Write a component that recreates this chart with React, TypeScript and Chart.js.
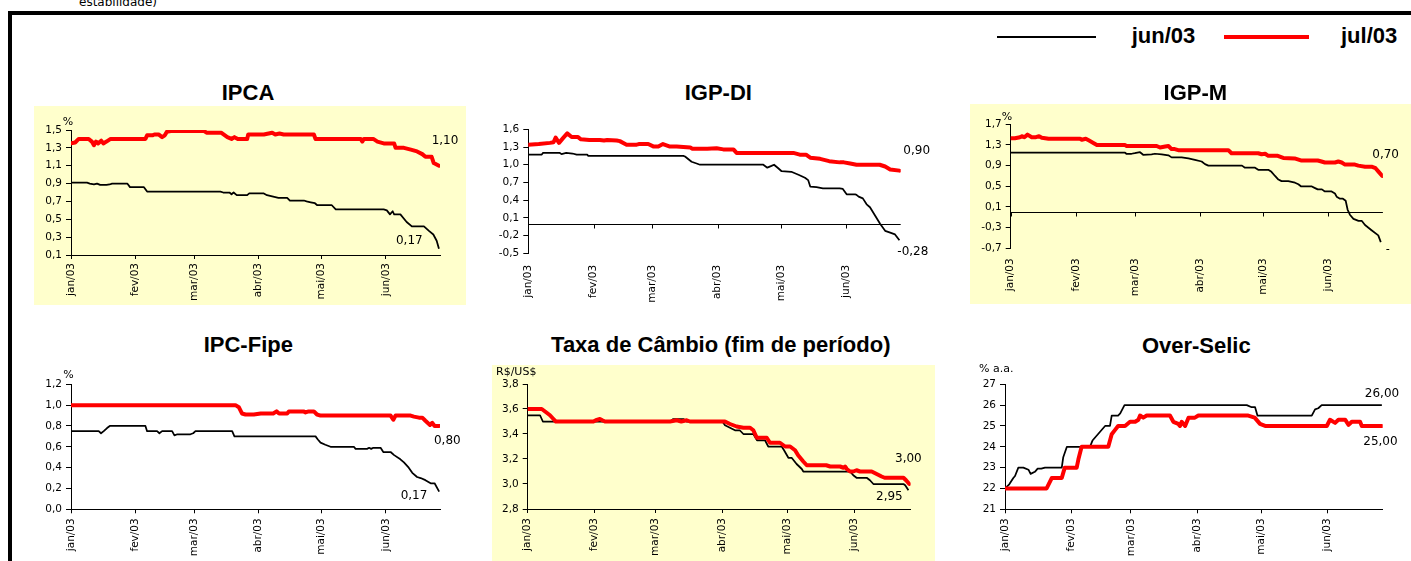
import React, { useEffect, useRef } from 'react';
import { Chart, registerables } from 'chart.js';
Chart.register(...registerables);

type Pt = [number, number];

// ---------------- data ----------------
const monthTicks = [0, 31, 59, 90, 120, 151];
const monthLabels = ['jan/03', 'fev/03', 'mar/03', 'abr/03', 'mai/03', 'jun/03'];
const dayMax = 177;
const seriesLabels = ['jun/03', 'jul/03'];

const ipcaJun: Pt[] = [[0,0.91],[7.7,0.91],[9,0.90],[11,0.89],[12.5,0.90],[14,0.885],[17,0.885],[18.5,0.89],[19.7,0.90],[27,0.90],[28.3,0.86],[35,0.86],[36.5,0.81],[71.7,0.81],[73,0.80],[76,0.80],[77,0.78],[78,0.80],[79.5,0.77],[84.5,0.77],[85.5,0.79],[92.5,0.79],[94,0.77],[99.5,0.74],[103.7,0.74],[105,0.71],[111.7,0.71],[113,0.70],[115,0.69],[117,0.68],[118,0.66],[125,0.66],[127,0.61],[150,0.61],[151.5,0.60],[153,0.555],[154.3,0.59],[155,0.555],[158,0.555],[161,0.47],[163.5,0.42],[169.3,0.42],[171.7,0.37],[173.8,0.33],[175.4,0.26],[176.5,0.17]];
const ipcaJul: Pt[] = [[0,1.35],[2,1.36],[3.7,1.40],[8.5,1.40],[10,1.37],[11,1.33],[12,1.37],[13,1.35],[14.5,1.38],[15.5,1.35],[17,1.37],[19,1.40],[35.7,1.40],[36.5,1.44],[39,1.44],[40,1.45],[42,1.45],[43.7,1.42],[45,1.44],[46,1.48],[48.5,1.49],[63.7,1.49],[65,1.47],[72,1.47],[75,1.42],[77,1.40],[78.4,1.42],[80,1.40],[84.5,1.40],[85,1.45],[92.5,1.45],[96.5,1.47],[98,1.45],[100,1.46],[102,1.45],[116.5,1.45],[117.3,1.40],[139,1.40],[139.7,1.37],[140.5,1.40],[145,1.40],[147,1.37],[150,1.35],[155,1.35],[155.7,1.30],[159.7,1.30],[163,1.28],[166,1.26],[168.5,1.23],[170,1.20],[173,1.20],[174,1.13],[176.5,1.10]];

const igpdiJun: Pt[] = [[0,1.17],[6.3,1.17],[7,1.20],[15,1.20],[15.8,1.18],[18,1.20],[21,1.19],[23,1.17],[28,1.17],[28.5,1.15],[73.7,1.15],[74.5,1.14],[77.6,1.05],[80,1.02],[81.6,1.00],[111.7,1.00],[113.6,0.95],[115.6,0.98],[116.8,1.00],[118.8,0.94],[120.4,0.89],[125,0.88],[128.4,0.83],[131.5,0.78],[133,0.74],[134,0.63],[137,0.62],[140,0.60],[148,0.60],[149.5,0.59],[151.3,0.50],[155.3,0.50],[156,0.49],[157,0.46],[159,0.43],[160.8,0.33],[162.4,0.28],[164.8,0.14],[167.2,0.00],[169.6,-0.12],[172,-0.15],[174.3,-0.18],[176.4,-0.28]];
const igpdiJul: Pt[] = [[0,1.34],[5,1.35],[10.3,1.37],[12,1.38],[13,1.46],[14.6,1.37],[16.5,1.45],[18.5,1.53],[20.6,1.47],[23.5,1.47],[25,1.43],[29,1.42],[34,1.42],[36,1.41],[37.5,1.42],[42,1.41],[43.5,1.40],[46.7,1.34],[51.5,1.34],[52.5,1.35],[57,1.35],[59.4,1.31],[61.8,1.31],[64,1.35],[67,1.31],[70.5,1.31],[73.7,1.30],[77,1.29],[78,1.27],[85,1.27],[89.5,1.28],[92.7,1.26],[97.5,1.26],[99,1.20],[126,1.20],[129,1.17],[132,1.17],[134,1.12],[138.7,1.10],[143,1.06],[148,1.04],[150,1.04],[153,1.02],[156,1.00],[167,1.00],[169.6,0.97],[172,0.92],[176.4,0.90]];

const igpmJun: Pt[] = [[0,1.15],[54.4,1.15],[55,1.13],[57.5,1.13],[59,1.14],[61.5,1.16],[63,1.11],[67,1.12],[68.6,1.13],[71.8,1.12],[75,1.10],[76.5,1.06],[81.3,1.06],[84.5,1.04],[87.6,1.01],[90.8,0.98],[92.4,0.93],[94,0.90],[110,0.90],[111.4,0.86],[116.2,0.86],[117.7,0.82],[122.5,0.82],[124,0.78],[125.7,0.70],[127.3,0.63],[128.8,0.60],[132,0.60],[135.2,0.57],[136.8,0.54],[138,0.50],[143,0.50],[144.5,0.47],[146,0.44],[148,0.44],[149.4,0.40],[152.6,0.40],[154.2,0.36],[155,0.30],[156.6,0.26],[158,0.26],[159.3,0.22],[160.2,0.05],[161.3,-0.05],[163,-0.13],[165.4,-0.17],[167,-0.17],[168.5,-0.25],[171.6,-0.35],[174.8,-0.45],[176,-0.58]];
const igpmJul: Pt[] = [[0,1.43],[2,1.43],[4.4,1.45],[5.5,1.47],[6.5,1.45],[8,1.50],[10,1.45],[12,1.45],[13.5,1.47],[14.8,1.44],[18,1.42],[33,1.42],[33.8,1.40],[35.7,1.42],[37.5,1.38],[39.3,1.34],[41,1.30],[54.4,1.30],[55,1.28],[69.4,1.28],[71,1.25],[73.5,1.27],[75,1.28],[76.5,1.22],[78,1.22],[79.7,1.20],[103.5,1.20],[105,1.14],[117.7,1.14],[119.3,1.12],[121,1.13],[122.5,1.09],[127,1.09],[129.6,1.05],[135,1.04],[136.5,1.02],[138,1.00],[146,1.00],[147.8,0.98],[149.4,0.96],[154.2,0.96],[155.8,0.98],[157.4,0.96],[159,0.92],[163.7,0.92],[165.3,0.90],[168.5,0.88],[171.6,0.88],[173.5,0.85],[175,0.78],[176.7,0.70]];

const fipeJun: Pt[] = [[0,0.75],[13.3,0.75],[14.4,0.73],[15.7,0.75],[17.3,0.78],[18.6,0.80],[35.7,0.80],[36.5,0.75],[41.3,0.75],[42.4,0.73],[43.7,0.75],[48.5,0.75],[49.6,0.71],[51,0.72],[57.3,0.72],[58.6,0.73],[59.7,0.75],[77.3,0.75],[78.4,0.70],[117.3,0.70],[118.4,0.67],[119.7,0.64],[122,0.62],[124.5,0.60],[135.7,0.60],[136.5,0.58],[142,0.58],[143,0.59],[144,0.58],[145,0.59],[148.5,0.59],[149.8,0.55],[153.3,0.55],[155,0.52],[158,0.48],[159.7,0.45],[162,0.40],[163.7,0.35],[166,0.31],[167.7,0.30],[170,0.28],[172.5,0.25],[174.4,0.25],[176.6,0.17]];
const fipeJul: Pt[] = [[0,1.00],[78.9,1.00],[80.5,0.98],[82,0.92],[83.7,0.91],[87.7,0.91],[91,0.92],[97,0.92],[98.6,0.94],[99.8,0.92],[103.7,0.92],[104.5,0.94],[111.5,0.94],[112.5,0.93],[114,0.94],[116.5,0.94],[118,0.91],[119.7,0.90],[153.3,0.90],[154.6,0.86],[155.7,0.90],[162.9,0.90],[164.5,0.89],[166.9,0.88],[168.5,0.88],[170,0.85],[172.2,0.81],[173.3,0.83],[174.4,0.80],[176.6,0.80]];

const cambioJun: Pt[] = [[0,3.55],[5.7,3.55],[7,3.50],[66,3.50],[67.3,3.52],[72,3.52],[73.5,3.50],[90,3.50],[91.2,3.47],[93.5,3.45],[95.8,3.43],[98,3.43],[99.7,3.40],[104.3,3.40],[106,3.35],[109.7,3.35],[111.2,3.30],[117.4,3.30],[118.5,3.27],[120.5,3.21],[122,3.21],[124.3,3.16],[126.7,3.12],[127.4,3.10],[149,3.10],[150.5,3.07],[152,3.05],[156.7,3.05],[158.2,3.03],[159.8,3.00],[173.7,3.00],[174.5,2.99],[176,2.95]];
const cambioJul: Pt[] = [[0,3.60],[6.5,3.60],[8.8,3.57],[10.3,3.55],[11.9,3.52],[13,3.50],[30.4,3.50],[31.5,3.51],[33.4,3.52],[34.5,3.51],[35.7,3.50],[65.8,3.50],[68.9,3.51],[71,3.50],[73.5,3.51],[75,3.50],[91.2,3.50],[93.5,3.48],[96.6,3.46],[99.7,3.45],[102.8,3.45],[104.3,3.43],[105.9,3.37],[110.5,3.37],[112,3.33],[116.6,3.33],[119,3.30],[121.3,3.30],[123.6,3.27],[125,3.23],[127.4,3.18],[129,3.15],[138,3.15],[139.8,3.14],[144.4,3.14],[146,3.13],[146.7,3.14],[147.5,3.12],[149,3.10],[150.5,3.10],[152,3.11],[153.6,3.10],[159,3.10],[161.3,3.08],[163.6,3.06],[165,3.05],[173.7,3.05],[174.9,3.03],[176.4,3.00]];

const selicJun: Pt[] = [[0,22.0],[2,22.2],[3.9,22.5],[4.7,22.6],[6.25,23.0],[8.6,23.0],[11,22.9],[12,22.7],[14,22.8],[15.3,22.95],[17,22.95],[18.75,23.0],[26.6,23.0],[27.3,23.5],[29,24.0],[39.8,24.0],[41,24.3],[46.9,25.0],[49.2,25.0],[50,25.5],[53,25.5],[54,25.6],[56,26.0],[113.3,26.0],[115.6,25.9],[117.2,25.9],[118.3,25.5],[143.75,25.5],[145.3,25.8],[146.8,25.85],[148.4,26.0],[176.6,26.0]];
const selicJul: Pt[] = [[0,22.0],[19.5,22.0],[21.9,22.5],[26.6,22.5],[28,23.0],[33.6,23.0],[34.4,23.4],[35.9,24.0],[48.4,24.0],[50,24.6],[51.5,24.8],[53,25.0],[56.25,25.0],[58.6,25.2],[61,25.2],[62.5,25.3],[63.3,25.5],[64.8,25.4],[66.4,25.5],[77.3,25.5],[78.9,25.2],[81.2,25.1],[82,25.0],[82.8,25.2],[84.4,25.0],[86,25.4],[89,25.4],[90.6,25.5],[114,25.5],[117,25.4],[119.5,25.1],[121.9,25.0],[150.8,25.0],[152.3,25.3],[154.7,25.15],[156.25,25.3],[159.4,25.3],[161,25.05],[162.5,25.2],[166.4,25.2],[167.2,25.0],[176.6,25.0]];

const ipcaTicks = [0.1, 0.3, 0.5, 0.7, 0.9, 1.1, 1.3, 1.5];
const igpdiTicks = [-0.5, -0.2, 0.1, 0.4, 0.7, 1.0, 1.3, 1.6];
const igpmTicks = [-0.7, -0.3, 0.1, 0.5, 0.9, 1.3, 1.7];
const fipeTicks = [0.0, 0.2, 0.4, 0.6, 0.8, 1.0, 1.2];
const cambioTicks = [2.8, 3.0, 3.2, 3.4, 3.6, 3.8];
const selicTicks = [21, 22, 23, 24, 25, 26, 27];

// ---------------- styles / layout ----------------
const YELLOW = '#FFFFCC';
const SMALL = '"DejaVu Sans", sans-serif';
const BOLD = '"Liberation Sans", Arial, sans-serif';

type Lab = { dx: number; dy: number; clipX?: number };
type Cfg = {
  title: string; cx: number; cy: number;
  box: { l: number; t: number; w: number; h: number };
  area: { x0: number; x1: number; y0: number; y1: number };
  bg: boolean; yTicks: number[]; dec: number; zero: boolean; pad: number;
  unit?: string; udx?: number; udy?: number;
  jun: Pt[]; jul: Pt[]; junLab: Lab; julLab: Lab;
};

const charts: Cfg[] = [
  { title: 'IPCA', cx: 248, cy: 92.2, box: { l: 34, t: 106, w: 432, h: 199 }, area: { x0: 71, x1: 440, y0: 130, y1: 255 },
    bg: true, yTicks: ipcaTicks, dec: 1, zero: false, pad: 4, unit: '%', udx: -8.3, udy: -5,
    jun: ipcaJun, jul: ipcaJul, junLab: { dx: -43, dy: -4.75 }, julLab: { dx: -7.3, dy: -21.7 } },
  { title: 'IGP-DI', cx: 718.3, cy: 92.2, box: { l: 490, t: 106, w: 450, h: 199 }, area: { x0: 528.3, x1: 900.7, y0: 129.3, y1: 253.3 },
    bg: false, yTicks: igpdiTicks, dec: 1, zero: true, pad: 7.5,
    jun: igpdiJun, jul: igpdiJul, junLab: { dx: -2.1, dy: 14.7 }, julLab: { dx: 3.9, dy: -16.3 } },
  { title: 'IGP-M', cx: 1195.3, cy: 92.2, box: { l: 970, t: 104, w: 441, h: 200 }, area: { x0: 1010.7, x1: 1382.9, y0: 124.3, y1: 248.3 },
    bg: true, yTicks: igpmTicks, dec: 1, zero: true, pad: 6, unit: '%', udx: -9, udy: -4.3,
    jun: igpmJun, jul: igpmJul, junLab: { dx: 4.9, dy: 10.5, clipX: 1389.5 }, julLab: { dx: -10, dy: -18.3 } },
  { title: 'IPC-Fipe', cx: 248.3, cy: 345, box: { l: 34, t: 360, w: 432, h: 201 }, area: { x0: 71, x1: 440, y0: 384.3, y1: 509.3 },
    bg: false, yTicks: fipeTicks, dec: 1, zero: false, pad: 5, unit: '%', udx: -7.7, udy: -6,
    jun: fipeJun, jul: fipeJul, junLab: { dx: -38.5, dy: 7.7 }, julLab: { dx: -5.2, dy: 18.3 } },
  { title: 'Taxa de Câmbio (fim de período)', cx: 720.8, cy: 344.5, box: { l: 492, t: 365, w: 443, h: 196 }, area: { x0: 527.7, x1: 910.6, y0: 384, y1: 509 },
    bg: true, yTicks: cambioTicks, dec: 1, zero: false, pad: 5, unit: 'R$/US$', udx: -31.7, udy: -9,
    jun: cambioJun, jul: cambioJul, junLab: { dx: -32.4, dy: 9.75 }, julLab: { dx: -14.3, dy: -22.3 } },
  { title: 'Over-Selic', cx: 1196.3, cy: 345.3, box: { l: 965, t: 360, w: 446, h: 201 }, area: { x0: 1005, x1: 1382.7, y0: 384.3, y1: 509.3 },
    bg: false, yTicks: selicTicks, dec: 0, zero: false, pad: 5, unit: '% a.a.', udx: -26, udy: -12.6,
    jun: selicJun, jul: selicJul, junLab: { dx: -17, dy: -8.5 }, julLab: { dx: -18.6, dy: 19 } },
];

const fmt = (v: number, d: number) => v.toFixed(d).replace('.', ',');

function SmallChart({ c }: { c: Cfg }) {
  const ref = useRef<HTMLCanvasElement>(null);
  useEffect(() => {
    const { box, area } = c;
    const tickFont = { family: SMALL, size: 10.5 };
    const decor = {
      id: 'decor',
      beforeDatasetsDraw(chart: any) {
        if (!c.zero) return;
        const { ctx, chartArea, scales } = chart;
        const yy = Math.round(scales.y.getPixelForValue(0)) + 0.5;
        ctx.save();
        ctx.strokeStyle = '#000';
        ctx.lineWidth = 1;
        ctx.beginPath();
        ctx.moveTo(chartArea.left, yy);
        ctx.lineTo(chartArea.right, yy);
        monthTicks.forEach((v) => {
          const x = Math.round(scales.x.getPixelForValue(v)) + 0.5;
          ctx.moveTo(x, yy);
          ctx.lineTo(x, yy + 4);
        });
        ctx.stroke();
        ctx.restore();
      },
      afterDraw(chart: any) {
        const { ctx, chartArea, scales } = chart;
        ctx.save();
        ctx.fillStyle = '#000';
        ctx.textAlign = 'left';
        ctx.textBaseline = 'alphabetic';
        if (c.unit) {
          ctx.font = `11px ${SMALL}`;
          ctx.fillText(c.unit, chartArea.left + (c.udx || 0), chartArea.top + (c.udy || 0));
        }
        ctx.font = `12px ${SMALL}`;
        const pairs: [Pt[], Lab][] = [[c.jun, c.junLab], [c.jul, c.julLab]];
        pairs.forEach(([s, lab]) => {
          const last = s[s.length - 1];
          const px = scales.x.getPixelForValue(last[0]);
          const py = scales.y.getPixelForValue(last[1]);
          ctx.save();
          if (lab.clipX !== undefined) {
            ctx.beginPath();
            ctx.rect(0, 0, lab.clipX - box.l, chart.height);
            ctx.clip();
          }
          ctx.fillText(fmt(last[1], 2), px + lab.dx, py + lab.dy);
          ctx.restore();
        });
        ctx.restore();
      },
    };
    const chart = new Chart(ref.current as HTMLCanvasElement, {
      type: 'line',
      data: {
        datasets: [
          { label: seriesLabels[1], data: c.jul.map(([x, y]) => ({ x, y })), borderColor: '#FF0000', borderWidth: 4,
            pointRadius: 0, order: 0, borderJoinStyle: 'round', borderCapStyle: 'round', tension: 0, fill: false },
          { label: seriesLabels[0], data: c.jun.map(([x, y]) => ({ x, y })), borderColor: '#000000', borderWidth: 1.75,
            pointRadius: 0, order: 1, borderJoinStyle: 'round', tension: 0, fill: false },
        ],
      },
      options: {
        responsive: false,
        animation: false,
        events: [],
        layout: { padding: { left: 0, top: area.y0 - box.t, right: box.l + box.w - area.x1, bottom: 0 } },
        plugins: { legend: { display: false }, tooltip: { enabled: false }, title: { display: false } },
        scales: {
          x: {
            type: 'linear', min: 0, max: dayMax,
            afterBuildTicks: (s: any) => { s.ticks = monthTicks.map((v) => ({ value: v })); },
            afterFit: (s: any) => { s.height = box.t + box.h - area.y1; },
            ticks: { autoSkip: false, minRotation: 90, maxRotation: 90, padding: c.pad, color: '#000', font: tickFont,
              callback: (v: any) => monthLabels[monthTicks.indexOf(Number(v))] ?? '' },
            grid: { display: true, drawOnChartArea: false, drawTicks: true, tickLength: 4,
              color: c.zero ? 'rgba(0,0,0,0)' : '#000', lineWidth: 1 },
            border: { display: !c.zero, color: '#000', width: 1 },
          },
          y: {
            type: 'linear', min: c.yTicks[0], max: c.yTicks[c.yTicks.length - 1],
            afterBuildTicks: (s: any) => { s.ticks = c.yTicks.map((v) => ({ value: v })); },
            afterFit: (s: any) => { s.width = area.x0 - box.l; },
            ticks: { padding: 4, color: '#000', font: tickFont, callback: (v: any) => fmt(Number(v), c.dec) },
            grid: { display: true, drawOnChartArea: false, drawTicks: true, tickLength: 5, color: '#000', lineWidth: 1 },
            border: { display: true, color: '#000', width: 1 },
          },
        },
      } as any,
      plugins: [decor],
    });
    return () => chart.destroy();
  }, [c]);
  return (
    <canvas ref={ref} width={c.box.w} height={c.box.h}
      style={{ position: 'absolute', left: c.box.l, top: c.box.t, width: c.box.w, height: c.box.h,
        background: c.bg ? YELLOW : 'transparent' }} />
  );
}

export default function App() {
  return (
    <div style={{ position: 'absolute', left: 0, top: 0, width: 1411, height: 561, overflow: 'hidden', background: '#fff' }}>
      <div style={{ position: 'absolute', left: 79, top: -4.2, font: `12px ${SMALL}`, lineHeight: '12px', whiteSpace: 'nowrap', color: '#000' }}>estabilidade)</div>
      <div style={{ position: 'absolute', left: 8, top: 11, width: 1600, height: 800, borderLeft: '4px solid #000', borderTop: '4px solid #000' }} />
      <div style={{ position: 'absolute', left: 997, top: 36, width: 99, height: 2, background: '#000' }} />
      <div style={{ position: 'absolute', left: 1131.7, top: 24.5, font: `bold 22px ${BOLD}`, lineHeight: '22px', whiteSpace: 'nowrap' }}>{seriesLabels[0]}</div>
      <div style={{ position: 'absolute', left: 1224.3, top: 35.3, width: 85, height: 4, background: '#FF0000' }} />
      <div style={{ position: 'absolute', left: 1341, top: 24.5, font: `bold 22px ${BOLD}`, lineHeight: '22px', whiteSpace: 'nowrap' }}>{seriesLabels[1]}</div>
      {charts.map((c) => (
        <React.Fragment key={c.title}>
          {c.bg && c.title === 'IGP-M' ? (
            <div style={{ position: 'absolute', left: c.box.l, top: c.box.t, width: 1411 - c.box.l, height: c.box.h, background: YELLOW }} />
          ) : null}
          <SmallChart c={c} />
          <div style={{ position: 'absolute', left: c.cx - 250, width: 500, top: c.cy - 10.7, textAlign: 'center',
            font: `bold 22px ${BOLD}`, lineHeight: '22px', whiteSpace: 'nowrap', color: '#000' }}>{c.title}</div>
        </React.Fragment>
      ))}
    </div>
  );
}
